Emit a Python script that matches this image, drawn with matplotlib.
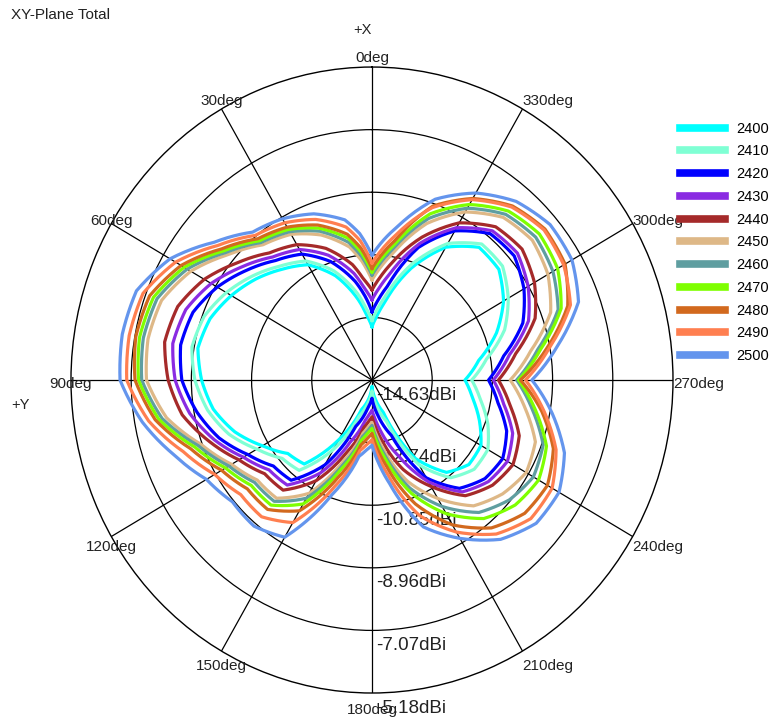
import numpy as np
import matplotlib.pyplot as plt
from matplotlib.lines import Line2D

plt.rcParams['font.family'] = ['Liberation Sans', 'DejaVu Sans']

# angles in deg, 0 at +X (top), counter-clockwise
angles_deg = [0, 5, 10, 20, 30, 40, 50, 60, 70, 80,
              90, 100, 110, 120, 130, 140,
              150, 160, 170, 175, 180, 185, 190,
              200, 210, 220, 230, 240, 250, 260, 270, 280, 290, 300, 310, 320, 330, 340, 350,
              355]

freqs = ['2400', '2410', '2420', '2430', '2440', '2450', '2460', '2470', '2480', '2490', '2500']
colors = ['aqua', 'aquamarine', 'blue', 'blueviolet', 'brown', 'burlywood',
          'cadetblue', 'chartreuse', 'chocolate', 'coral', 'cornflowerblue']

# total gain, dBi
gain_2400 = [-13.02, -12.65, -12.17, -11.28, -10.61, -10.26, -9.88, -9.53, -9.22, -9.08,
             -9.28, -9.57, -10.05, -10.66, -11.18, -11.32,
             -12.55, -13.69, -14.06, -14.25, -14.44, -14.25, -14.06,
             -13.59, -11.89, -10.99, -10.66, -10.68, -11.04, -11.42, -11.71, -11.23, -10.47, -9.86, -9.43, -9.40, -10.00, -11.04, -12.22,
             -12.65]
gain_2410 = [-12.83, -12.45, -11.97, -11.12, -10.48, -10.14, -9.74, -9.35, -9.02, -8.89,
             -9.07, -9.39, -9.85, -10.46, -10.95, -11.07,
             -12.21, -13.47, -13.92, -14.11, -14.30, -14.08, -13.85,
             -13.30, -11.67, -10.78, -10.44, -10.43, -10.76, -11.17, -11.50, -10.98, -10.20, -9.69, -9.28, -9.27, -9.87, -10.88, -12.01,
             -12.45]
gain_2420 = [-12.57, -12.08, -11.61, -10.82, -10.24, -9.92, -9.48, -9.02, -8.65, -8.53,
             -8.66, -9.05, -9.52, -10.13, -10.59, -10.68,
             -11.67, -13.14, -13.71, -13.90, -14.08, -13.82, -13.54,
             -12.85, -11.22, -10.36, -10.00, -9.89, -10.13, -10.61, -10.97, -10.43, -9.59, -9.12, -8.80, -8.86, -9.43, -10.37, -11.73,
             -12.17]
gain_2430 = [-12.21, -11.84, -11.36, -10.62, -10.08, -9.78, -9.31, -8.80, -8.41, -8.28,
             -8.45, -8.82, -9.36, -9.97, -10.41, -10.49,
             -11.39, -12.64, -13.39, -13.58, -13.72, -13.43, -13.07,
             -12.19, -11.08, -10.22, -9.86, -9.72, -9.93, -10.43, -10.82, -10.25, -9.40, -8.97, -8.67, -8.75, -9.32, -10.24, -11.37,
             -11.81]
gain_2440 = [-11.91, -11.57, -11.09, -10.40, -9.91, -9.62, -9.12, -8.55, -8.14, -8.02,
             -8.23, -8.58, -9.20, -9.81, -10.23, -10.29,
             -11.12, -12.31, -13.17, -13.37, -13.52, -13.16, -12.76,
             -11.75, -10.92, -10.07, -9.69, -9.52, -9.71, -10.23, -10.66, -10.05, -9.18, -8.74, -8.48, -8.59, -9.15, -10.04, -11.04,
             -11.49]
gain_2450 = [-11.61, -11.03, -10.55, -9.97, -9.55, -9.30, -8.74, -8.06, -7.60, -7.49,
             -7.55, -8.08, -8.93, -9.54, -9.93, -9.97,
             -10.68, -12.04, -13.00, -13.20, -13.35, -12.95, -12.50,
             -11.38, -10.50, -9.67, -9.28, -9.04, -9.17, -9.75, -10.29, -9.57, -8.66, -8.25, -8.06, -8.22, -8.77, -9.60, -10.72,
             -11.17]
gain_2460 = [-11.46, -10.88, -10.41, -9.85, -9.46, -9.21, -8.64, -7.93, -7.45, -7.34,
             -7.40, -7.94, -8.83, -9.44, -9.82, -9.85,
             -10.51, -11.87, -12.89, -13.09, -13.26, -12.82, -12.34,
             -11.16, -10.22, -9.41, -9.00, -8.78, -8.91, -9.52, -10.09, -9.35, -8.41, -8.07, -7.92, -8.10, -8.64, -9.44, -10.56,
             -11.02]
gain_2470 = [-11.37, -10.76, -10.28, -9.75, -9.38, -9.14, -8.56, -7.82, -7.33, -7.22,
             -7.30, -7.83, -8.71, -9.32, -9.68, -9.70,
             -10.31, -11.74, -12.80, -13.01, -13.17, -12.71, -12.21,
             -10.98, -9.97, -9.17, -8.76, -8.59, -8.80, -9.42, -10.03, -9.25, -8.31, -7.90, -7.77, -7.97, -8.51, -9.29, -10.46,
             -10.92]
gain_2480 = [-11.26, -10.63, -10.16, -9.65, -9.30, -9.06, -8.47, -7.71, -7.20, -7.10,
             -7.19, -7.72, -8.57, -9.18, -9.52, -9.53,
             -10.07, -11.49, -12.64, -12.85, -13.02, -12.51, -11.98,
             -10.65, -9.58, -8.80, -8.37, -8.27, -8.57, -9.22, -9.97, -9.05, -8.09, -7.63, -7.54, -7.77, -8.30, -9.04, -10.33,
             -10.79]
gain_2490 = [-11.10, -10.41, -9.94, -9.47, -9.15, -8.93, -8.31, -7.51, -6.98, -6.89,
             -6.93, -7.51, -8.32, -8.93, -9.25, -9.24,
             -9.66, -11.21, -12.47, -12.67, -12.83, -12.30, -11.72,
             -10.28, -9.33, -8.56, -8.12, -8.10, -8.48, -9.14, -9.81, -8.97, -8.00, -7.68, -7.58, -7.81, -8.34, -9.09, -10.16,
             -10.63]
gain_2500 = [-10.86, -10.19, -9.72, -9.29, -9.01, -8.80, -8.16, -7.31, -6.76, -6.67,
             -6.72, -7.31, -8.02, -8.63, -8.91, -8.87,
             -9.15, -10.94, -12.29, -12.50, -12.66, -12.08, -11.46,
             -9.91, -9.11, -8.35, -7.90, -7.85, -8.20, -8.89, -9.61, -8.72, -7.73, -7.38, -7.33, -7.59, -8.11, -8.82, -9.91,
             -10.38]

series = [gain_2400, gain_2410, gain_2420, gain_2430, gain_2440, gain_2450,
          gain_2460, gain_2470, gain_2480, gain_2490, gain_2500]

r_levels = [-14.63, -12.74, -10.85, -8.96, -7.07, -5.18]
spoke_deg = list(range(0, 360, 30))

fig = plt.figure(figsize=(7.74, 7.24), dpi=100)
ax = fig.add_axes([0.0917, 0.0428, 0.7778, 0.8646], projection='polar')
ax.set_aspect('auto')
ax.set_theta_zero_location('N')
ax.set_theta_direction(1)
ax.set_ylim(r_levels[0], r_levels[-1])
ax.set_yticks(r_levels[1:-1])
ax.set_yticklabels([])
ax.set_xticks(np.deg2rad(spoke_deg))
ax.set_xticklabels([])
ax.grid(True, color='black', linewidth=0.9)
ax.spines['polar'].set_color('black')
ax.spines['polar'].set_linewidth(1.0)

theta = np.deg2rad(angles_deg + [360])
for f, c, g in zip(freqs, colors, series):
    line, = ax.plot(theta, g + [g[0]], color=c, lw=2.3, zorder=3)
    # draw each segment along the polar grid instead of as a straight chord
    line.get_path()._interpolation_steps = 12

# radial level labels along the 180deg spoke
for v in r_levels:
    ax.annotate(f'{v:.2f}dBi', xy=(np.pi, v), xytext=(4, -15), textcoords='offset pixels',
                ha='left', va='center', fontsize=13.5, color='#222222', zorder=1,
                annotation_clip=False)

# angle labels round the rim
for a in spoke_deg:
    ha = 'left' if 180 < a < 360 else 'center'
    dy = 13 * np.cos(np.deg2rad(a)) - 3.5
    ax.annotate(f'{a}deg', xy=(np.deg2rad(a), r_levels[-1]), xytext=(0, dy),
                textcoords='offset pixels', ha=ha, va='center', fontsize=11,
                color='#222222', annotation_clip=False)

fig.text(0.468, 0.9586, '+X', fontsize=10.5, ha='center', va='center', color='#222222')
fig.text(0.027, 0.441, '+Y', fontsize=10.5, ha='center', va='center', color='#222222')
fig.text(0.0142, 0.979, 'XY-Plane Total', fontsize=11, ha='left', va='center', color='#222222')

handles = [Line2D([], [], color=c, lw=5.5) for c in colors]
fig.legend(handles, freqs, loc='upper left', bbox_to_anchor=(0.8786, 0.832),
           frameon=False, fontsize=10.5, handlelength=3.1, handletextpad=0.75,
           labelspacing=0.6, borderpad=0, borderaxespad=0)

fig.savefig('out.png', dpi=100)
